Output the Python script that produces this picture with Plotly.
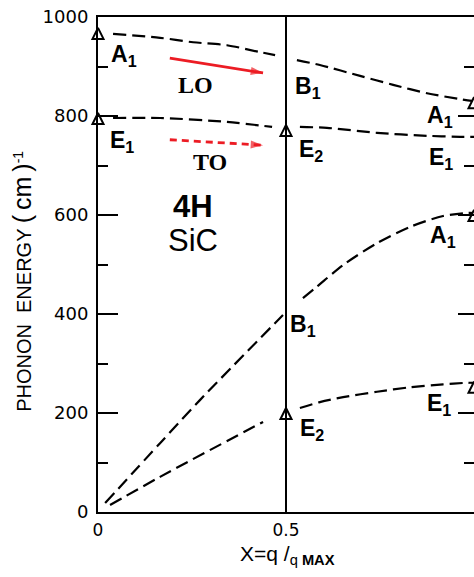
import plotly.graph_objects as go

# Phonon dispersion of 4H-SiC along the c axis (reduced wave vector X = q/q_max)
# Optical branches (LO: A1-B1-A1, TO: E1-E2-E1)
lo_left_x = [0.040, 0.165, 0.253, 0.343, 0.431, 0.471]
lo_left_y = [966, 958, 949, 943, 929, 923]
lo_right_x = [0.529, 0.590, 0.697, 0.785, 0.875, 0.963, 1.0]
lo_right_y = [913, 903, 881, 863, 846, 834, 830]

to_left_x = [0.040, 0.165, 0.343, 0.463]
to_left_y = [796, 796, 788, 778]
to_right_x = [0.537, 0.609, 0.742, 0.875, 0.963, 1.0]
to_right_y = [778, 776, 766, 760, 758, 758]

# Folded acoustic branches
la_left_x = [0.019, 0.165, 0.271, 0.492]
la_left_y = [18, 139, 226, 398]
la_right_x = [0.545, 0.582, 0.652, 0.742, 0.830, 0.918, 0.981, 1.0]
la_right_y = [432, 455, 499, 543, 576, 598, 604, 604]

ta_left_x = [0.032, 0.165, 0.439]
ta_left_y = [14, 71, 182]
ta_right_x = [0.537, 0.590, 0.652, 0.742, 0.830, 0.918, 0.981, 1.0]
ta_right_y = [210, 222, 232, 243, 252, 258, 261, 261]

# Measured Raman points (open triangles)
raman_x = [0, 0, 0.5, 0.5, 1, 1, 1]
raman_y = [978, 806, 782, 210, 838, 610, 263]

# Red guide arrows for the LO and TO branches
lo_arrow_x = [0.191, 0.439]
lo_arrow_y = [917, 887]
to_arrow_x = [0.191, 0.439]
to_arrow_y = [752, 741]

y_major = [0, 200, 400, 600, 800, 1000]
x_ticks = [0, 0.5, 1]
x_tick_text = ["0", "0.5", "1"]

SANS = "Liberation Sans, Arial, sans-serif"
NUM = "DejaVu Sans, sans-serif"
SERIF = "Liberation Serif, Times New Roman, serif"
RED = "#ec1c24"

fig = go.Figure()

dash = "13px,6px"
for xs, ys in [(lo_left_x, lo_left_y), (lo_right_x, lo_right_y),
               (to_left_x, to_left_y), (to_right_x, to_right_y),
               (la_left_x, la_left_y), (la_right_x, la_right_y),
               (ta_left_x, ta_left_y), (ta_right_x, ta_right_y)]:
    fig.add_trace(go.Scatter(x=xs, y=ys, mode="lines",
                             line=dict(color="black", width=2.2, dash=dash,
                                       shape="spline", smoothing=0.8),
                             showlegend=False, hoverinfo="skip"))

fig.add_trace(go.Scatter(x=raman_x, y=raman_y, mode="markers", cliponaxis=False,
                         marker=dict(symbol="arrow-up", size=11, color="white",
                                     line=dict(color="black", width=2)),
                         showlegend=False, hoverinfo="skip"))

for xs, ys, d in [(lo_arrow_x, lo_arrow_y, "solid"), (to_arrow_x, to_arrow_y, "7px,5px")]:
    fig.add_trace(go.Scatter(x=xs, y=ys, mode="lines", line=dict(color=RED, width=2.8, dash=d),
                             showlegend=False, hoverinfo="skip"))
    fig.add_trace(go.Scatter(x=xs, y=ys, mode="markers",
                             marker=dict(symbol="arrow", angleref="previous", size=[0, 13],
                                         color=RED, line=dict(width=0)),
                             showlegend=False, hoverinfo="skip"))

# Zone-centre/zone-edge separator at X = 0.5
fig.add_shape(type="line", xref="x", yref="paper", x0=0.5, x1=0.5, y0=0, y1=1,
              line=dict(color="black", width=2))

labels = [
    (0.069, 923, "A<sub>1</sub>"), (0.064, 749, "E<sub>1</sub>"),
    (0.559, 857, "B<sub>1</sub>"), (0.566, 731, "E<sub>2</sub>"),
    (0.910, 798, "A<sub>1</sub>"), (0.912, 715, "E<sub>1</sub>"),
    (0.545, 376, "B<sub>1</sub>"), (0.918, 556, "A<sub>1</sub>"),
    (0.569, 166, "E<sub>2</sub>"), (0.907, 218, "E<sub>1</sub>"),
]
for x, y, t in labels:
    fig.add_annotation(x=x, y=y, text="<b>" + t + "</b>", showarrow=False,
                       font=dict(family=SANS, size=23, color="black"))

fig.add_annotation(x=0.253, y=617, text="<b>4H</b>", showarrow=False,
                   font=dict(family=SANS, size=31, color="black"))
fig.add_annotation(x=0.253, y=548, text="SiC", showarrow=False,
                   font=dict(family=SANS, size=31, color="black"))
fig.add_annotation(x=0.258, y=863, text="<b>LO</b>", showarrow=False,
                   font=dict(family=SERIF, size=24, color="black"))
fig.add_annotation(x=0.298, y=707, text="<b>TO</b>", showarrow=False,
                   font=dict(family=SERIF, size=24, color="black"))

fig.add_annotation(xref="paper", yref="paper", x=-0.202, y=0.465, textangle=-90,
                   text="PHONON\u00a0\u00a0ENERGY <span style='font-size:25px'>(\u2009cm\u2009)</span><sup>-1</sup>",
                   showarrow=False, xanchor="center", yanchor="middle",
                   font=dict(family=SANS, size=20, color="black"))
fig.add_annotation(xref="paper", yref="paper", x=0.505, y=-0.087,
                   text="X=q /<sub>q\u00a0<b>MAX</b></sub>",
                   showarrow=False, xanchor="center", yanchor="middle",
                   font=dict(family=SANS, size=21, color="black"))

fig.update_layout(
    width=474, height=577,
    margin=dict(l=98, r=0, t=17, b=65),
    plot_bgcolor="white", paper_bgcolor="white",
    xaxis=dict(range=[0, 1], showgrid=False, zeroline=False,
               showline=True, linecolor="black", linewidth=2, mirror=True,
               ticks="", tickvals=x_ticks, ticktext=x_tick_text,
               ticklabelstandoff=2,
               tickfont=dict(family=NUM, size=17, color="black")),
    yaxis=dict(range=[0, 1000], showgrid=False, zeroline=False,
               showline=True, linecolor="black", linewidth=2,
               ticks="inside", ticklen=20, tickwidth=2, tickcolor="black",
               tickvals=y_major, ticklabelstandoff=4,
               minor=dict(ticks="inside", ticklen=10, tickwidth=2, tickcolor="black",
                          dtick=100, showgrid=False),
               tickfont=dict(family=NUM, size=18, color="black")),
    yaxis2=dict(range=[0, 1000], overlaying="y", side="right", showgrid=False,
                zeroline=False, showline=True, linecolor="#bdbdbd", linewidth=1,
                ticks="inside", ticklen=16, tickwidth=2, tickcolor="black",
                tickvals=y_major, showticklabels=False,
                minor=dict(ticks="inside", ticklen=10, tickwidth=2, tickcolor="black",
                           dtick=100, showgrid=False)),
)

# Invisible trace so the right-hand axis is drawn
fig.add_trace(go.Scatter(x=[0], y=[0], yaxis="y2", mode="markers",
                         marker=dict(opacity=0), showlegend=False, hoverinfo="skip"))

fig.write_html("out.html")
